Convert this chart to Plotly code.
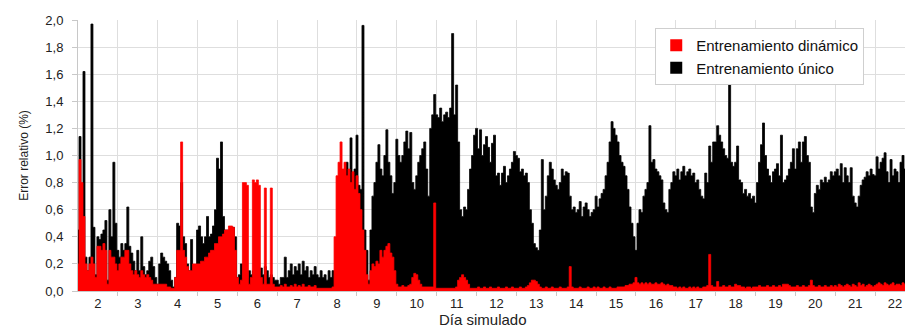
import plotly.graph_objects as go

# --- data (20 samples per simulated day) ---
# Sampling grid: first sample at day 1.5, 20 samples per day
t_inicio = 1.5
muestras_por_dia = 20

# Entrenamiento único (black), one row per simulated day 2..22
error_unico = [
    0.45,1.14,0.6,1.62,0.25,0.15,0.25,1.97,0.47,0.12,0.4,0.38,0.42,0.45,0.52,0.08,0.6,0.4,0.95,0.5,
    0.3,0.25,0.35,0.3,0.35,0.62,0.33,0.28,0.22,0.15,0.3,0.15,0.4,0.18,0.12,0.15,0.22,0.25,0.18,0.1,
    0.05,0.2,0.28,0.25,0.22,0.2,0.15,0.08,0.03,0.1,0.5,0.48,0.8,0.4,0.35,0.2,0.15,0.38,0.1,0.1,
    0.45,0.48,0.4,0.35,0.4,0.55,0.4,0.42,0.48,0.6,0.98,0.9,1.1,0.55,0.45,0.45,0.45,0.47,0.47,0.4,
    0.1,0.12,0.2,0.1,0.1,0.1,0.15,0.12,0.15,0.18,0.2,0.15,0.17,0.12,0.18,0.15,0.1,0.12,0.1,0.08,
    0.08,0.05,0.1,0.1,0.25,0.1,0.15,0.2,0.12,0.18,0.15,0.2,0.12,0.22,0.15,0.18,0.1,0.15,0.12,0.18,
    0.12,0.1,0.15,0.1,0.12,0.08,0.15,0.1,0.15,0.15,0.15,0.5,0.6,0.7,0.8,0.95,0.85,1.13,0.75,0.9,
    1.15,0.78,0.75,1.96,0.45,0.3,0.08,0.45,0.7,0.8,0.95,1.08,0.9,0.85,1.0,1.19,0.95,0.85,0.72,0.8,
    1.12,1.0,0.95,1.0,1.1,1.18,1.05,1.17,0.8,0.75,0.85,0.95,1.0,1.05,1.1,0.9,0.7,1.2,1.3,1.45,
    1.3,1.28,1.35,1.25,1.3,1.32,1.28,1.35,1.9,1.3,1.52,1.1,0.6,0.55,0.62,0.6,0.75,0.9,1.0,1.15,
    1.2,1.05,1.19,1.0,1.08,1.14,1.06,0.95,1.09,1.15,0.85,0.87,0.78,0.87,0.92,0.8,0.85,0.9,0.95,1.03,
    1.0,0.98,0.88,0.9,0.85,0.87,0.8,0.6,0.5,0.35,0.32,0.3,0.45,0.97,0.6,0.7,0.85,0.95,0.9,0.82,
    0.78,0.75,0.8,0.9,0.85,0.88,0.87,0.7,0.6,0.62,0.58,0.6,0.66,0.55,0.62,0.65,0.6,0.55,0.58,0.6,
    0.7,0.62,0.68,0.72,0.75,0.85,0.95,1.1,1.25,1.2,1.15,1.1,1.0,0.95,0.92,0.85,0.75,0.62,0.5,0.4,
    0.3,0.5,0.6,0.58,0.7,0.75,0.8,1.22,0.95,0.97,0.9,0.88,0.85,0.82,0.65,0.6,0.58,0.75,0.8,0.88,
    0.85,0.9,0.82,0.88,0.92,0.85,0.88,0.9,0.85,0.87,0.8,0.82,0.75,0.7,0.68,0.87,0.8,1.07,0.95,1.1,
    1.1,1.22,1.15,1.1,1.05,1.0,0.98,1.55,0.95,0.92,0.95,1.07,0.82,0.8,0.72,0.75,0.7,0.72,0.68,0.7,
    0.65,0.8,0.95,1.08,1.24,1.0,0.9,0.85,0.8,0.88,0.9,0.94,0.85,1.15,0.8,0.82,0.85,0.9,0.95,1.05,
    0.9,1.05,1.1,0.95,1.1,1.14,1.0,0.95,0.62,0.58,0.72,0.78,0.75,0.82,0.8,0.84,0.8,0.82,0.88,0.85,
    0.88,0.9,0.85,0.94,0.8,0.91,0.85,0.8,0.91,0.7,0.65,0.62,0.7,0.78,0.82,0.84,0.88,0.85,0.9,0.86,
    0.85,0.99,0.9,0.95,0.98,1.02,0.88,0.8,0.97,0.85,0.9,0.88,0.8,0.95,1.0,0.9,
]

# Entrenamiento dinámico (red), same grid
error_dinamico = [
    0.2,0.97,0.8,0.55,0.2,0.15,0.2,0.25,0.2,0.1,0.33,0.33,0.3,0.35,0.3,0.05,0.3,0.25,0.25,0.2,
    0.15,0.2,0.25,0.25,0.3,0.3,0.2,0.15,0.12,0.15,0.12,0.1,0.15,0.12,0.1,0.12,0.1,0.08,0.05,0.05,
    0.05,0.05,0.05,0.05,0.05,0.03,0.03,0.02,0.02,0.1,0.3,0.3,1.1,0.3,0.25,0.18,0.15,0.15,0.2,0.2,
    0.2,0.2,0.22,0.22,0.25,0.25,0.28,0.3,0.3,0.35,0.35,0.4,0.4,0.42,0.45,0.45,0.48,0.48,0.47,0.3,
    0.1,0.05,0.08,0.8,0.8,0.78,0.05,0.1,0.82,0.8,0.82,0.78,0.1,0.05,0.76,0.05,0.05,0.76,0.05,0.03,
    0.03,0.03,0.04,0.03,0.05,0.03,0.03,0.04,0.03,0.05,0.03,0.04,0.03,0.05,0.03,0.03,0.04,0.03,0.03,0.04,
    0.02,0.02,0.02,0.02,0.02,0.02,0.02,0.02,0.03,0.4,0.85,0.95,1.1,0.9,0.95,0.85,0.9,0.8,0.88,0.75,
    0.85,0.72,0.6,0.45,0.3,0.12,0.05,0.15,0.2,0.18,0.22,0.2,0.3,0.25,0.3,0.33,0.35,0.28,0.25,0.15,
    0.05,0.03,0.03,0.04,0.03,0.03,0.04,0.05,0.1,0.13,0.12,0.08,0.05,0.03,0.03,0.03,0.03,0.03,0.03,0.65,
    0.02,0.02,0.02,0.02,0.02,0.02,0.02,0.02,0.02,0.02,0.03,0.08,0.1,0.12,0.1,0.08,0.05,0.02,0.02,0.02,
    0.02,0.03,0.02,0.02,0.03,0.02,0.02,0.03,0.02,0.02,0.02,0.03,0.02,0.02,0.02,0.03,0.02,0.02,0.03,0.02,
    0.02,0.02,0.03,0.02,0.02,0.03,0.04,0.06,0.08,0.08,0.07,0.05,0.03,0.02,0.02,0.03,0.02,0.02,0.03,0.02,
    0.02,0.02,0.03,0.02,0.02,0.02,0.03,0.18,0.03,0.02,0.02,0.02,0.03,0.02,0.02,0.02,0.03,0.02,0.02,0.03,
    0.02,0.03,0.02,0.02,0.03,0.02,0.02,0.03,0.02,0.02,0.02,0.03,0.03,0.03,0.03,0.04,0.04,0.05,0.05,0.06,
    0.1,0.06,0.05,0.06,0.05,0.06,0.05,0.06,0.05,0.05,0.06,0.05,0.05,0.06,0.05,0.04,0.05,0.04,0.04,0.03,
    0.03,0.02,0.03,0.02,0.03,0.02,0.02,0.03,0.02,0.03,0.02,0.03,0.02,0.02,0.03,0.03,0.04,0.27,0.04,0.03,
    0.03,0.07,0.03,0.03,0.04,0.03,0.03,0.04,0.03,0.03,0.05,0.04,0.04,0.03,0.03,0.02,0.03,0.03,0.02,0.03,
    0.03,0.03,0.04,0.03,0.03,0.03,0.04,0.03,0.03,0.04,0.03,0.03,0.04,0.03,0.05,0.05,0.05,0.04,0.03,0.03,
    0.03,0.04,0.03,0.03,0.04,0.03,0.03,0.04,0.08,0.04,0.03,0.03,0.04,0.03,0.03,0.04,0.03,0.03,0.04,0.03,
    0.04,0.03,0.05,0.04,0.03,0.04,0.05,0.04,0.03,0.05,0.04,0.03,0.06,0.04,0.05,0.03,0.04,0.05,0.04,0.03,
    0.04,0.05,0.06,0.05,0.04,0.06,0.05,0.04,0.05,0.06,0.04,0.05,0.05,0.04,0.06,0.05,
]

dias = list(range(2, 23))
etiquetas_dias = [str(d) for d in dias]
limites_dias = [d + 0.5 for d in range(2, 22)]
y_ticks = [0.0, 0.2, 0.4, 0.6, 0.8, 1.0, 1.2, 1.4, 1.6, 1.8, 2.0]
y_labels = ["0,0", "0,2", "0,4", "0,6", "0,8", "1,0", "1,2", "1,4", "1,6", "1,8", "2,0"]

t = [t_inicio + i / muestras_por_dia for i in range(len(error_unico))]

FONT = "Liberation Sans, Arial, sans-serif"
GRID = "#dedede"

fig = go.Figure()
fig.add_trace(go.Scatter(
    x=t, y=error_unico, mode="lines", line=dict(color="#000000", width=0.8, shape="hvh"),
    fill="tozeroy", fillcolor="#000000", showlegend=False, hoverinfo="skip"))
fig.add_trace(go.Scatter(
    x=t, y=error_dinamico, mode="lines", line=dict(color="#ff0000", width=0.8, shape="hvh"),
    fill="tozeroy", fillcolor="#ff0000", showlegend=False, hoverinfo="skip"))

# legend entries
fig.add_trace(go.Scatter(x=[None], y=[None], mode="markers", name="Entrenamiento dinámico",
                         marker=dict(symbol="square", size=8, color="#ff0000")))
fig.add_trace(go.Scatter(x=[None], y=[None], mode="markers", name="Entrenamiento único",
                         marker=dict(symbol="square", size=8, color="#000000")))

fig.update_layout(
    width=907, height=329,
    margin=dict(l=78, r=2, t=20, b=38, autoexpand=False),
    paper_bgcolor="white", plot_bgcolor="white",
    font=dict(family=FONT, size=13, color="#222222"),
    legend=dict(x=0.698, y=0.9705, xanchor="left", yanchor="top",
                bgcolor="white", bordercolor="#cfcfcf", borderwidth=1,
                font=dict(family=FONT, size=15, color="#111111"),
                tracegroupgap=0, itemsizing="constant"),
    xaxis=dict(
        range=[1.5, 22.25], tickmode="array", tickvals=dias, ticktext=etiquetas_dias,
        showgrid=False, ticks="", zeroline=False, automargin=False,
        showline=True, linecolor="#c8c8c8", linewidth=1,
        tickfont=dict(family=FONT, size=13, color="#222222"),
        minor=dict(tickmode="array", tickvals=limites_dias, showgrid=True, gridcolor=GRID,
                   gridwidth=1, ticks="outside", ticklen=4, tickcolor="#c8c8c8"),
    ),
    yaxis=dict(
        range=[0, 2.0], tickmode="array", tickvals=y_ticks, ticktext=y_labels,
        showgrid=True, gridcolor=GRID, gridwidth=1, zeroline=False, automargin=False,
        showline=True, linecolor="#c8c8c8", linewidth=1,
        ticks="outside", ticklen=5, tickcolor="#c8c8c8", ticklabelstandoff=6,
        tickfont=dict(family=FONT, size=13, color="#222222"),
        title=dict(text="Error relativo (%)", font=dict(family=FONT, size=12, color="#222222"), standoff=14),
    ),
    annotations=[dict(text="Día simulado", x=0.49, y=-0.107, xref="paper", yref="paper",
                      xanchor="center", yanchor="middle", showarrow=False,
                      font=dict(family=FONT, size=15, color="#222222"))],
)

# remove the browser's default page margin so the figure sits at the top-left corner
fig.write_html("out.html", config={"displayModeBar": False},
               post_script="document.body.style.margin='0';")
